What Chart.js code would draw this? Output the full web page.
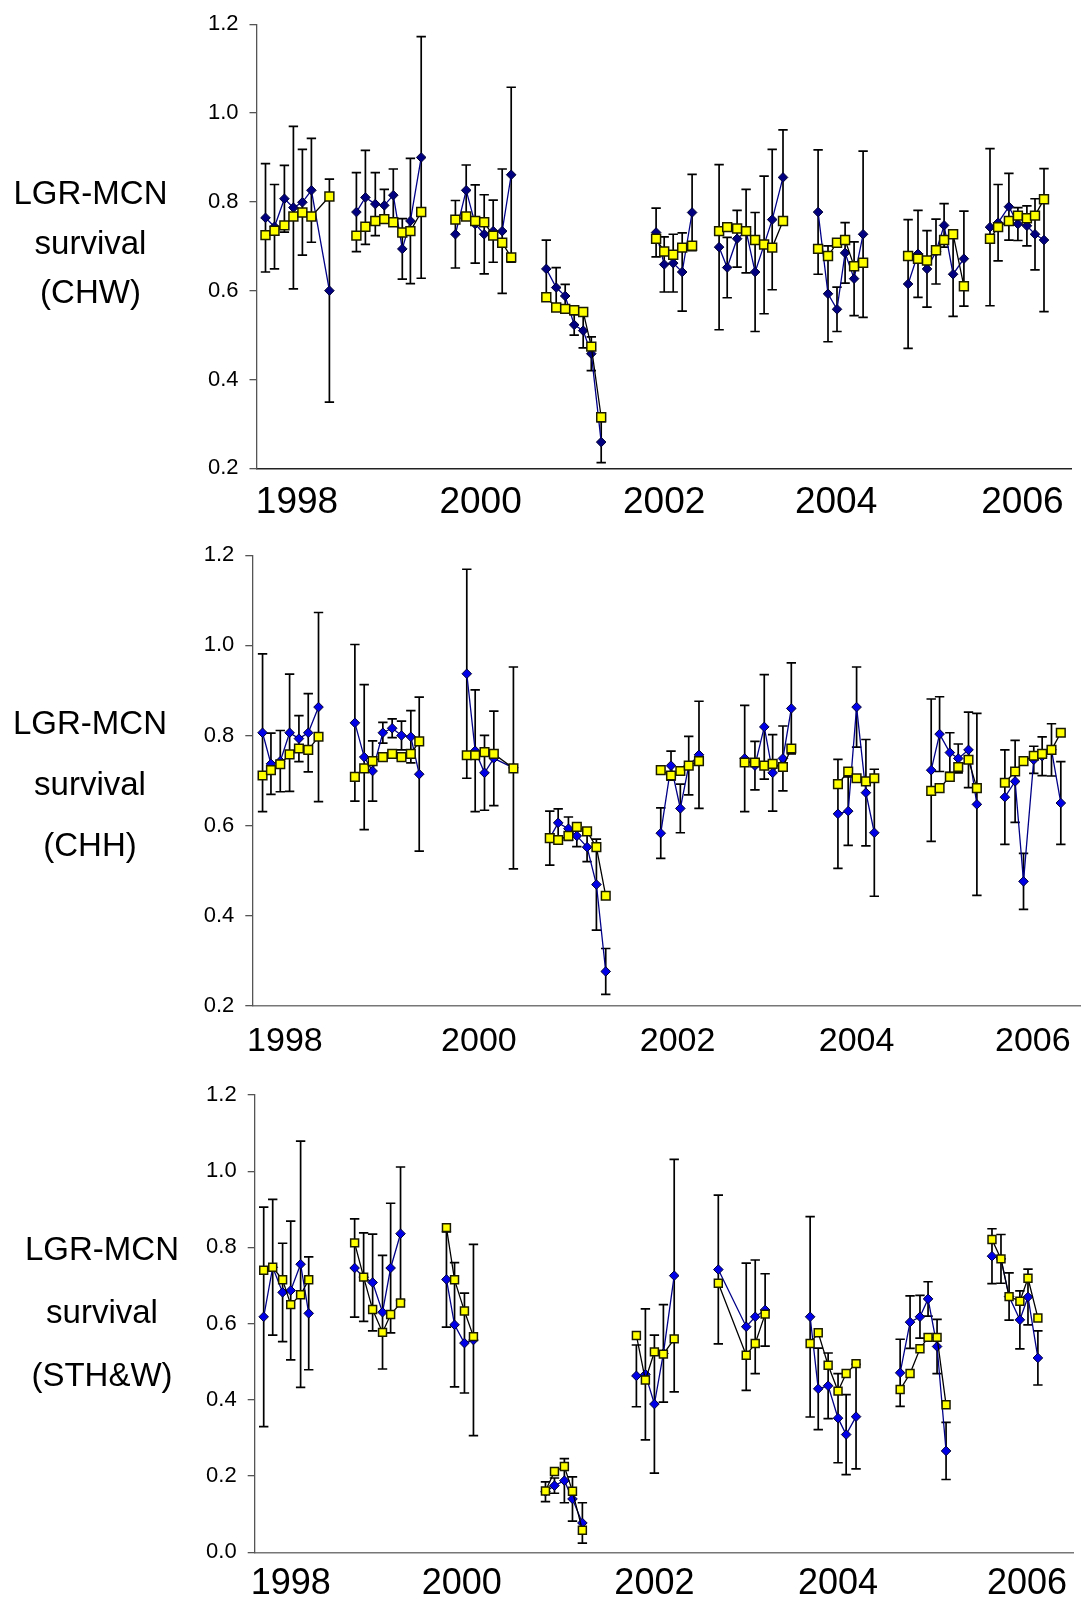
<!DOCTYPE html>
<html>
<head>
<meta charset="utf-8">
<title>LGR-MCN survival</title>
<script src="https://cdn.jsdelivr.net/npm/chart.js@4.4.1/dist/chart.umd.min.js"></script>
<style>
  html, body { margin: 0; padding: 0; background: #fff; }
  #wrap { position: relative; width: 1088px; height: 1599px; overflow: hidden; }
  canvas { position: absolute; left: 0; }
</style>
</head>
<body>
<div id="wrap">
  <canvas id="chw" width="1088" height="530" style="top:0"></canvas>
  <canvas id="chh" width="1088" height="530" style="top:530px"></canvas>
  <canvas id="sth" width="1088" height="539" style="top:1060px"></canvas>
</div>
<script>
(function () {
    "use strict";

    var FONT = '"Liberation Sans", Arial, sans-serif';
    var yearLabels = ['1998', '2000', '2002', '2004', '2006'];

    // CHW : release position (week index), one inner array per year
    var chwX = [
        [1.0, 2.0, 3.1, 4.1, 5.1, 6.1, 8.1],
        [11.1, 12.1, 13.2, 14.2, 15.2, 16.2, 17.1, 18.3],
        [22.1, 23.3, 24.3, 25.3, 26.3, 27.3, 28.3],
        [32.2, 33.3, 34.3, 35.3, 36.3, 37.2, 38.3],
        [44.4, 45.3, 46.3, 47.3, 48.4],
        [51.4, 52.3, 53.4, 54.4, 55.4, 56.4, 57.3, 58.5],
        [62.4, 63.5, 64.5, 65.4, 66.4, 67.4],
        [72.4, 73.5, 74.5, 75.5, 76.4, 77.4, 78.6],
        [81.5, 82.4, 83.6, 84.6, 85.6, 86.5, 87.5]
    ];
    var chwBlue = [
        [0.764, 0.744, 0.807, 0.787, 0.799, 0.826, 0.600],
        [0.777, 0.810, 0.795, 0.792, 0.815, 0.694, 0.757, 0.900],
        [0.727, 0.826, 0.750, 0.727, 0.734, 0.734, 0.861],
        [0.649, 0.607, 0.588, 0.523, 0.510, 0.458, 0.259],
        [0.731, 0.659, 0.662, 0.642, 0.776],
        [0.698, 0.652, 0.717, 0.734, 0.642, 0.703, 0.760, 0.855],
        [0.777, 0.593, 0.558, 0.685, 0.627, 0.727],
        [0.615, 0.683, 0.649, 0.688, 0.747, 0.637, 0.672],
        [0.743, 0.753, 0.789, 0.750, 0.746, 0.727, 0.714]
    ];
    var chwYellow = [
        [0.725, 0.735, 0.747, 0.767, 0.776, 0.767, 0.812],
        [0.724, 0.744, 0.757, 0.761, 0.754, 0.731, 0.734, 0.777],
        [0.760, 0.767, 0.757, 0.754, 0.724, 0.708, 0.675],
        [0.585, 0.562, 0.559, 0.556, 0.552, 0.474, 0.315],
        [0.717, 0.688, 0.681, 0.697, 0.701],
        [0.734, 0.743, 0.740, 0.734, 0.714, 0.704, 0.697, 0.757],
        [0.694, 0.678, 0.708, 0.714, 0.655, 0.663],
        [0.678, 0.672, 0.668, 0.691, 0.714, 0.727, 0.610],
        [0.717, 0.743, 0.757, 0.769, 0.763, 0.769, 0.806]
    ];
    var chwErr = [
        [0.122, 0.095, 0.075, 0.183, 0.119, 0.117, 0.251],
        [0.089, 0.106, 0.071, 0.036, 0.059, 0.068, 0.141, 0.272],
        [0.076, 0.057, 0.088, 0.089, 0.070, 0.140, 0.197],
        [0.065, 0.045, 0.026, 0.023, 0.039, 0.038, 0.046],
        [0.055, 0.062, 0.065, 0.088, 0.086],
        [0.186, 0.068, 0.064, 0.094, 0.134, 0.155, 0.158, 0.107],
        [0.140, 0.108, 0.050, 0.068, 0.083, 0.187],
        [0.145, 0.098, 0.086, 0.073, 0.049, 0.095, 0.107],
        [0.177, 0.086, 0.075, 0.037, 0.045, 0.080, 0.161]
    ];
    var chwYearPos = [4.5, 24.9, 45.3, 64.4, 85.1];

    // CHH
    var chhX = [
        [1.1, 2.0, 3.0, 4.0, 5.0, 6.0, 7.1],
        [11.0, 12.0, 12.9, 14.0, 15.0, 16.0, 17.0, 17.9],
        [23.0, 23.9, 24.9, 25.9, 28.0],
        [31.9, 32.8, 33.9, 34.8, 35.9, 36.9, 37.9],
        [43.8, 44.9, 45.9, 46.8, 47.9],
        [52.8, 53.9, 54.9, 55.8, 56.9, 57.8],
        [62.8, 63.9, 64.8, 65.8, 66.7],
        [72.8, 73.7, 74.8, 75.7, 76.8, 77.7],
        [80.7, 81.8, 82.7, 83.8, 84.7, 85.7, 86.7]
    ];
    var chhBlue = [
        [0.806, 0.737, 0.743, 0.806, 0.793, 0.806, 0.863],
        [0.828, 0.752, 0.721, 0.806, 0.816, 0.800, 0.797, 0.714],
        [0.937, 0.766, 0.717, 0.749, 0.728],
        [0.572, 0.606, 0.593, 0.577, 0.552, 0.469, 0.276],
        [0.583, 0.733, 0.638, 0.733, 0.757],
        [0.749, 0.733, 0.819, 0.717, 0.749, 0.860],
        [0.626, 0.632, 0.863, 0.673, 0.584],
        [0.723, 0.803, 0.762, 0.749, 0.768, 0.647],
        [0.663, 0.698, 0.476, 0.746, 0.754, 0.768, 0.650]
    ];
    var chhYellow = [
        [0.711, 0.723, 0.736, 0.758, 0.771, 0.768, 0.797],
        [0.708, 0.727, 0.743, 0.752, 0.759, 0.752, 0.759, 0.787],
        [0.756, 0.756, 0.763, 0.759, 0.727],
        [0.572, 0.568, 0.577, 0.597, 0.587, 0.552, 0.444],
        [0.723, 0.711, 0.721, 0.733, 0.743],
        [0.740, 0.740, 0.733, 0.737, 0.730, 0.771],
        [0.692, 0.720, 0.705, 0.698, 0.705],
        [0.677, 0.683, 0.708, 0.730, 0.746, 0.683],
        [0.695, 0.720, 0.743, 0.755, 0.759, 0.768, 0.806]
    ];
    var chhErr = [
        [0.175, 0.068, 0.068, 0.130, 0.051, 0.087, 0.210],
        [0.174, 0.161, 0.067, 0.023, 0.021, 0.032, 0.058, 0.171],
        [0.232, 0.135, 0.083, 0.105, 0.224],
        [0.060, 0.031, 0.026, 0.024, 0.032, 0.101, 0.051],
        [0.056, 0.032, 0.054, 0.065, 0.119],
        [0.118, 0.054, 0.116, 0.085, 0.072, 0.101],
        [0.121, 0.076, 0.089, 0.118, 0.141],
        [0.158, 0.083, 0.044, 0.032, 0.084, 0.202],
        [0.105, 0.091, 0.062, 0.030, 0.043, 0.058, 0.092]
    ];
    var chhYearPos = [3.5, 24.3, 45.6, 64.8, 83.7];

    // STH&W
    var sthX = [
        [1.0, 2.0, 3.1, 4.0, 5.1, 6.0],
        [11.1, 12.1, 13.1, 14.2, 15.1, 16.2],
        [21.3, 22.2, 23.3, 24.3],
        [32.3, 33.3, 34.4, 35.3, 36.4],
        [42.4, 43.4, 44.4, 45.4, 46.6],
        [51.5, 54.6, 55.6, 56.7],
        [61.7, 62.6, 63.7, 64.8, 65.7, 66.8],
        [71.7, 72.8, 73.9, 74.8, 75.8, 76.8],
        [81.9, 82.9, 83.8, 85.0, 85.9, 87.0]
    ];
    var sthBlue = [
        [0.618, 0.748, 0.682, 0.687, 0.756, 0.627],
        [0.746, 0.722, 0.708, 0.630, 0.746, 0.836],
        [0.716, 0.597, 0.549, 0.557],
        [0.159, 0.175, 0.188, 0.140, 0.077],
        [0.463, 0.467, 0.389, 0.522, 0.726],
        [0.742, 0.592, 0.618, 0.636],
        [0.618, 0.429, 0.437, 0.352, 0.309, 0.356],
        [0.471, 0.604, 0.618, 0.665, 0.540, 0.266],
        [0.777, 0.770, 0.671, 0.610, 0.670, 0.510]
    ];
    var sthYellow = [
        [0.740, 0.748, 0.715, 0.650, 0.676, 0.715],
        [0.812, 0.722, 0.637, 0.577, 0.624, 0.654],
        [0.852, 0.715, 0.633, 0.566],
        [0.161, 0.212, 0.225, 0.160, 0.058],
        [0.569, 0.452, 0.526, 0.520, 0.560],
        [0.706, 0.517, 0.548, 0.625],
        [0.548, 0.576, 0.491, 0.423, 0.469, 0.495],
        [0.427, 0.469, 0.534, 0.564, 0.564, 0.387],
        [0.821, 0.770, 0.671, 0.659, 0.719, 0.615]
    ];
    var sthErr = [
        [0.288, 0.178, 0.129, 0.182, 0.323, 0.148],
        [0.129, 0.116, 0.127, 0.149, 0.170, 0.175],
        [0.125, 0.163, 0.131, 0.251],
        [0.026, 0.020, 0.058, 0.058, 0.053],
        [0.081, 0.172, 0.181, 0.128, 0.305],
        [0.195, 0.167, 0.149, 0.095],
        [0.263, 0.107, 0.086, 0.117, 0.105, 0.137],
        [0.088, 0.069, 0.056, 0.045, 0.071, 0.075],
        [0.072, 0.064, 0.062, 0.076, 0.073, 0.071]
    ];
    var sthYearPos = [4.0, 23.0, 44.4, 64.8, 85.8];


    // flatten the year groups, a null between years breaks the line
    function flat(groups) {
        var out = [];
        groups.forEach(function (g, i) {
            if (i > 0) out.push(null);
            g.forEach(function (v) { out.push(v); });
        });
        return out;
    }

    function points(xs, ys) {
        var fx = flat(xs), fy = flat(ys);
        return fx.map(function (x, i) {
            if (x === null) return { x: fx[i - 1] + 0.5, y: null };
            return { x: x, y: fy[i] };
        });
    }


    // Error bars (drawn under the markers)
    var errorBars = {
        id: 'errorBars',
        beforeDatasetsDraw: function (chart) {
            var ctx = chart.ctx;
            var yScale = chart.scales.y;
            chart.data.datasets.forEach(function (ds, i) {
                if (!ds.errors) return;
                var meta = chart.getDatasetMeta(i);
                ctx.save();
                ctx.strokeStyle = '#000';
                ctx.lineWidth = 1.7;
                ds.data.forEach(function (p, j) {
                    var e = ds.errors[j];
                    if (p.y === null || e === null) return;
                    var x = meta.data[j].x;
                    var top = yScale.getPixelForValue(p.y + e);
                    var bot = yScale.getPixelForValue(p.y - e);
                    ctx.beginPath();
                    ctx.moveTo(x, top); ctx.lineTo(x, bot);
                    ctx.moveTo(x - 4.7, top); ctx.lineTo(x + 4.7, top);
                    ctx.moveTo(x - 4.7, bot); ctx.lineTo(x + 4.7, bot);
                    ctx.stroke();
                });
                ctx.restore();
            });
        }
    };

    // Side title, three centred lines left of the axis
    var sideTitle = {
        id: 'sideTitle',
        afterDraw: function (chart, args, opts) {
            var ctx = chart.ctx;
            ctx.save();
            ctx.font = opts.size + 'px ' + FONT;
            ctx.fillStyle = '#000';
            ctx.textAlign = 'center';
            ctx.textBaseline = 'alphabetic';
            opts.lines.forEach(function (t, k) {
                ctx.fillText(t, opts.x, opts.baseline + k * opts.gap);
            });
            ctx.restore();
        }
    };


    function makePanel(id, cfg) {
        return new Chart(document.getElementById(id), {
            type: 'line',
            plugins: [errorBars, sideTitle],
            data: {
                datasets: [{
                    label: 'yellow',
                    data: points(cfg.x, cfg.yellow),
                    order: 1,
                    borderColor: '#000',
                    borderWidth: 1.3,
                    pointStyle: 'rect',
                    pointRadius: cfg.sq,
                    pointBackgroundColor: '#ffff00',
                    pointBorderColor: '#1a1a00',
                    pointBorderWidth: 1.5
                },
                {
                    label: 'blue',
                    data: points(cfg.x, cfg.blue),
                    errors: flat(cfg.err),
                    order: 2,
                    borderColor: '#000088',
                    borderWidth: 1.3,
                    pointStyle: 'rectRot',
                    pointRadius: 4.8,
                    pointBackgroundColor: cfg.blueFill,
                    pointBorderColor: '#000033',
                    pointBorderWidth: 1
                }]
            },
            options: {
                responsive: false,
                animation: false,
                devicePixelRatio: 1,
                spanGaps: false,
                layout: { padding: { top: cfg.top, right: cfg.right, left: 0, bottom: 0 } },
                plugins: {
                    legend: { display: false },
                    tooltip: { enabled: false },
                    sideTitle: { lines: cfg.title, x: cfg.titleX, baseline: cfg.titleBase, gap: cfg.titleGap, size: 33 }
                },
                scales: {
                    x: {
                        type: 'linear',
                        min: 0,
                        max: cfg.xMax,
                        afterBuildTicks: function (s) {
                            s.ticks = cfg.yearPos.map(function (v) { return { value: v }; });
                        },
                        afterFit: function (s) { s.height = cfg.xH; },
                        grid: { display: false, drawTicks: false },
                        border: { display: true, color: cfg.xAxisColor, width: 1.4 },
                        ticks: {
                            autoSkip: false,
                            maxRotation: 0,
                            padding: cfg.yearPad,
                            color: '#000',
                            font: { family: FONT, size: cfg.yearSize },
                            callback: function (v, i) { return yearLabels[i]; }
                        }
                    },
                    y: {
                        min: cfg.yMin,
                        max: 1.2,
                        afterFit: function (s) { s.width = cfg.left; },
                        grid: { drawOnChartArea: false, drawTicks: true, tickLength: 7, color: '#555', lineWidth: 1.3 },
                        border: { display: true, color: '#555', width: 1.3 },
                        ticks: {
                            stepSize: 0.2,
                            padding: 11,
                            color: '#000',
                            font: { family: FONT, size: 22 },
                            callback: function (v) { return v.toFixed(1); }
                        }
                    }
                }
            }
        });
    }


    makePanel('chw', {
        x: chwX, blue: chwBlue, yellow: chwYellow, err: chwErr, yearPos: chwYearPos,
        left: 256.5, right: 17, top: 19, xH: 61.7, xMax: 90.5, yMin: 0.2,
        yearPad: 12, yearSize: 37, xAxisColor: '#222',
        title: ['LGR-MCN', 'survival', '(CHW)'], titleX: 90.5, titleBase: 204, titleGap: 49.5,
        sq: 6.3, blueFill: '#000080'
    });

    makePanel('chh', {
        x: chhX, blue: chhBlue, yellow: chhYellow, err: chhErr, yearPos: chhYearPos,
        left: 252.3, right: 1, top: 25.3, xH: 54.3, xMax: 88.8, yMin: 0.2,
        yearPad: 16, yearSize: 34, xAxisColor: '#777',
        title: ['LGR-MCN', 'survival', '(CHH)'], titleX: 90, titleBase: 203.5, titleGap: 61,
        sq: 6.1, blueFill: '#0000e6'
    });

    makePanel('sth', {
        x: sthX, blue: sthBlue, yellow: sthYellow, err: sthErr, yearPos: sthYearPos,
        left: 254.7, right: 15, top: 35, xH: 46.7, xMax: 90.9, yMin: 0.0,
        yearPad: 10, yearSize: 36, xAxisColor: '#777',
        title: ['LGR-MCN', 'survival', '(STH&W)'], titleX: 102, titleBase: 199.5, titleGap: 63,
        sq: 5.6, blueFill: '#0000e6'
    });

})();
</script>
</body>
</html>
